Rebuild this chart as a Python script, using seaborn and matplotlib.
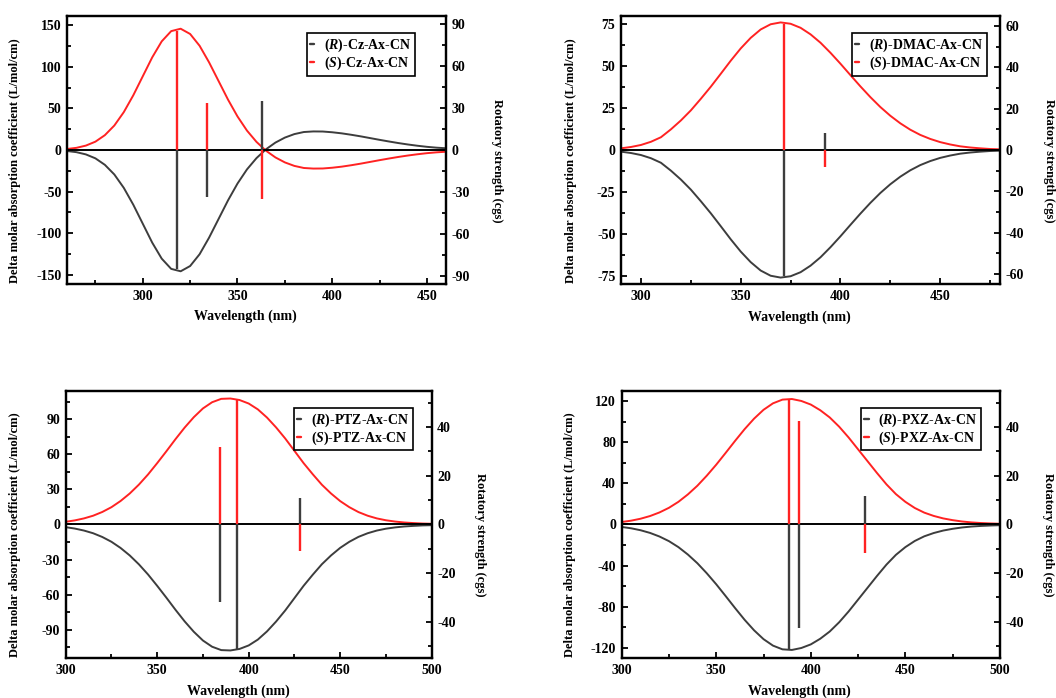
import numpy as np
import pandas as pd
import matplotlib
matplotlib.use("Agg")
import matplotlib.pyplot as plt
from matplotlib.lines import Line2D
from matplotlib.ticker import MultipleLocator
import seaborn as sns

# ECD spectra of the (S) enantiomers on a 5 nm grid; the (R) spectra are their mirror images.
cz_wavelength = np.arange(260, 461, 5)
cz_s_cd = [1.2, 2.6, 5.3, 10.0, 17.8, 29.4, 45.5, 65.7, 88.5, 111.3, 130.5, 142.8,
           145.7, 139.4, 125.2, 105.3, 82.9, 60.5, 40.3, 23.3, 9.8, -0.8, -8.9,
           -14.9, -19.1, -21.6, -22.3, -22.2, -21.3, -20.0, -18.3, -16.4, -14.3,
           -12.2, -10.2, -8.3, -6.6, -5.1, -3.8, -2.8, -2.1]
cz_stick_nm = [318, 334, 363]
cz_s_strength = [85, 33.5, -35]

dmac_wavelength = np.arange(290, 481, 5)
dmac_s_cd = [1.0, 1.8, 3.0, 4.9, 7.6, 12.3, 17.6, 23.6, 30.5, 37.7, 45.4, 53.2,
             60.5, 66.8, 71.8, 74.9, 76.0, 75.2, 72.8, 68.9, 63.9, 57.9, 51.4,
             44.6, 37.9, 31.5, 25.6, 20.4, 15.9, 12.1, 9.0, 6.6, 4.7, 3.3, 2.2,
             1.5, 1.0, 0.6, 0.4]
dmac_stick_nm = [371.5, 392.5]
dmac_s_strength = [61, -8]

ptz_wavelength = np.arange(300, 501, 5)
ptz_s_cd = [2.3, 3.5, 5.2, 7.5, 10.7, 14.8, 20.1, 26.5, 34.1, 42.8, 52.5, 62.6,
            73.0, 82.9, 91.8, 99.3, 104.6, 107.5, 107.8, 106.5, 103.5, 98.5, 91.5,
            83.0, 73.5, 63.0, 52.5, 43.0, 34.0, 26.5, 20.0, 14.8, 10.6, 7.5, 5.2,
            3.6, 2.5, 1.7, 1.2, 0.8, 0.6]
ptz_stick_nm = [384.5, 393.5, 428]
ptz_s_strength = [32, 51, -11]

pxz_wavelength = np.arange(300, 501, 5)
pxz_s_cd = [2.4, 3.7, 5.6, 8.2, 11.7, 16.2, 22.0, 29.2, 37.6, 47.4, 58.1, 69.6,
            81.3, 92.6, 102.8, 111.4, 117.7, 121.3, 121.9, 120.0, 116.5, 111.0,
            104.0, 95.0, 84.5, 73.0, 61.5, 50.0, 39.0, 29.5, 22.0, 16.0, 11.5,
            8.3, 5.9, 4.2, 2.9, 2.0, 1.4, 1.0, 0.7]
pxz_stick_nm = [388.5, 394, 428.5]
pxz_s_strength = [51.5, 42.5, -11.7]

compound_names = ["Cz-Ax-CN", "DMAC-Ax-CN", "PTZ-Ax-CN", "PXZ-Ax-CN"]

RED = "#ff2222"
GREY = "#3d3d3d"

sns.set_style("ticks")
plt.rcParams.update({
    "font.family": ["Liberation Serif", "DejaVu Serif"],
    "font.weight": "bold",
    "axes.labelweight": "bold",
    "axes.unicode_minus": False,
    "mathtext.fontset": "custom",
    "mathtext.rm": "Liberation Serif:bold",
    "mathtext.it": "Liberation Serif:italic:bold",
    "axes.edgecolor": "black",
    "axes.labelcolor": "black",
    "text.color": "black",
    "xtick.color": "black",
    "ytick.color": "black",
    "axes.linewidth": 1.6,
})

panels = [
    dict(rect=(0.0634, 0.5931, 0.3589, 0.3840), name=compound_names[0],
         wl=cz_wavelength, cd=cz_s_cd, sx=cz_stick_nm, sy=cz_s_strength,
         xlim=(260, 460), yl=(-161, 161), yr=(-95.5, 95.5),
         lmaj=50, rmaj=30, leg=(0.918, 0.935), lx=-0.137, rx=1.134),
    dict(rect=(0.5881, 0.5927, 0.3589, 0.3848), name=compound_names[1],
         wl=dmac_wavelength, cd=dmac_s_cd, sx=dmac_stick_nm, sy=dmac_s_strength,
         xlim=(290, 480), yl=(-80, 80), yr=(-65, 65),
         lmaj=25, rmaj=20, leg=(0.965, 0.934), lx=-0.133, rx=1.129),
    dict(rect=(0.0622, 0.0569, 0.3466, 0.3834), name=compound_names[2],
         wl=ptz_wavelength, cd=ptz_s_cd, sx=ptz_stick_nm, sy=ptz_s_strength,
         xlim=(300, 500), yl=(-114.5, 114.5), yr=(-55, 55),
         lmaj=30, rmaj=20, leg=(0.948, 0.936), lx=-0.1385, rx=1.132),
    dict(rect=(0.5887, 0.0569, 0.3582, 0.3834), name=compound_names[3],
         wl=pxz_wavelength, cd=pxz_s_cd, sx=pxz_stick_nm, sy=pxz_s_strength,
         xlim=(300, 500), yl=(-130, 130), yr=(-55, 55),
         lmaj=40, rmaj=20, leg=(0.949, 0.936), lx=-0.137, rx=1.127),
]

fig = plt.figure(figsize=(10.56, 6.98), dpi=100)

for p in panels:
    ax = fig.add_axes(p["rect"])
    wl = np.asarray(p["wl"], dtype=float)
    s_cd = np.asarray(p["cd"], dtype=float)
    df = pd.DataFrame({
        "wl": np.concatenate([wl, wl]),
        "cd": np.concatenate([-s_cd, s_cd]),
        "isomer": ["R"] * len(wl) + ["S"] * len(wl),
    })
    sns.lineplot(data=df, x="wl", y="cd", hue="isomer",
                 palette={"R": GREY, "S": RED}, estimator=None, sort=False,
                 linewidth=1.4, legend=False, ax=ax)
    ax.axhline(0, color="black", lw=1.4, zorder=3)

    ax.set_xlim(*p["xlim"])
    ax.set_ylim(*p["yl"])
    ax.xaxis.set_major_locator(MultipleLocator(50))
    ax.xaxis.set_minor_locator(MultipleLocator(25))
    ax.yaxis.set_major_locator(MultipleLocator(p["lmaj"]))
    ax.yaxis.set_minor_locator(MultipleLocator(p["lmaj"] / 2))
    ax.tick_params(axis="both", which="both", direction="in", top=False,
                   right=False, labelsize=10, width=1.3, pad=4)
    ax.tick_params(which="major", length=4.5)
    ax.tick_params(which="minor", length=2.8)

    ax.set_xlabel("Wavelength (nm)", fontsize=10, va="center")
    ax.xaxis.set_label_coords(0.471, -0.122)
    ax.set_ylabel("Delta molar absorption coefficient (L/mol/cm)", fontsize=9,
                  va="center")
    ax.yaxis.set_label_coords(p["lx"], 0.46)

    ax2 = ax.twinx()
    sy = np.asarray(p["sy"], dtype=float)
    ax2.vlines(p["sx"], 0, -sy, color=GREY, lw=1.7)
    ax2.vlines(p["sx"], 0, sy, color=RED, lw=1.7)
    ax2.set_ylim(*p["yr"])
    ax2.yaxis.set_major_locator(MultipleLocator(p["rmaj"]))
    ax2.yaxis.set_minor_locator(MultipleLocator(p["rmaj"] / 2))
    ax2.tick_params(axis="y", which="both", direction="in", labelsize=10,
                    width=1.3, pad=4)
    ax2.tick_params(axis="y", which="major", length=4.5)
    ax2.tick_params(axis="y", which="minor", length=2.8)
    for sp in ax2.spines.values():
        sp.set_linewidth(1.6)
    ax2.set_ylabel("Rotatory strength (cgs)", fontsize=9, rotation=270,
                   va="center")
    ax2.yaxis.set_label_coords(p["rx"], 0.46)

    handles = [Line2D([], [], color=GREY, lw=1.7), Line2D([], [], color=RED, lw=1.7)]
    leg = ax2.legend(handles, [f"($R$)-{p['name']}", f"($S$)-{p['name']}"],
                     loc="upper right", bbox_to_anchor=p["leg"], frameon=True,
                     fancybox=False, framealpha=1, edgecolor="black",
                     handlelength=0.3, handletextpad=0.7, borderpad=0.25,
                     labelspacing=0.05, borderaxespad=0, fontsize=10)
    leg.get_frame().set_linewidth(1.2)

fig.savefig("out.png", dpi=100)
